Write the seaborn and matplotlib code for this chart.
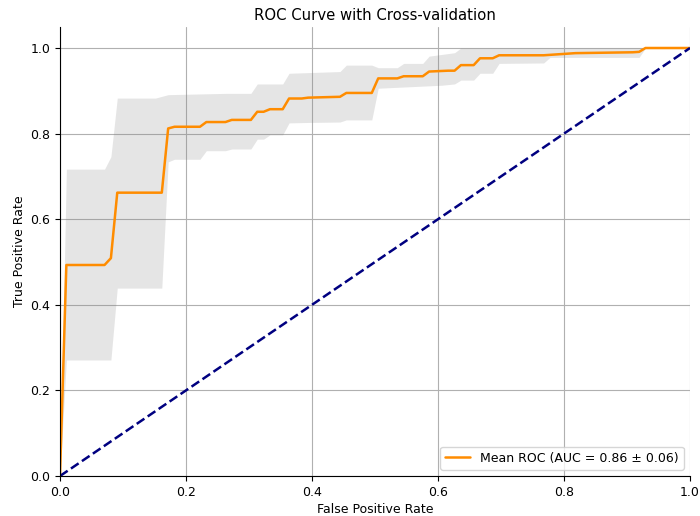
import matplotlib
matplotlib.use("Agg")
import matplotlib.pyplot as plt
import seaborn as sns
import pandas as pd
import numpy as np

# Mean ROC curve
mean_fpr = [0.0, 0.0101, 0.0707, 0.0808, 0.0909, 0.1616, 0.1717, 0.1818, 0.2222, 0.2323,
            0.2626, 0.2727, 0.3030, 0.3131, 0.3232, 0.3333, 0.3535, 0.3636, 0.3838, 0.3939,
            0.4444, 0.4545, 0.4949, 0.5051, 0.5354, 0.5455, 0.5758, 0.5859, 0.6162, 0.6263,
            0.6364, 0.6566, 0.6667, 0.6869, 0.6970, 0.7677, 0.8182, 0.9091, 0.9192, 0.9293, 1.0]
mean_tpr = [0.0, 0.493, 0.493, 0.509, 0.662, 0.662, 0.812, 0.816, 0.816, 0.827,
            0.827, 0.832, 0.832, 0.851, 0.851, 0.857, 0.857, 0.882, 0.882, 0.884,
            0.886, 0.895, 0.895, 0.929, 0.929, 0.934, 0.934, 0.945, 0.947, 0.947,
            0.960, 0.960, 0.976, 0.976, 0.983, 0.983, 0.988, 0.990, 0.991, 1.0, 1.0]

# Std band upper edge
upper_fpr = [0.0, 0.0101, 0.0707, 0.0808, 0.0909, 0.1515, 0.1616, 0.1717, 0.2626, 0.3030,
             0.3131, 0.3535, 0.3636, 0.4444, 0.4545, 0.4949, 0.5051, 0.5354, 0.5455, 0.5758,
             0.5859, 0.6263, 0.6364, 1.0]
upper_tpr = [0.0, 0.717, 0.717, 0.746, 0.883, 0.883, 0.887, 0.891, 0.894, 0.894,
             0.916, 0.916, 0.941, 0.945, 0.960, 0.960, 0.954, 0.954, 0.964, 0.964,
             0.981, 0.989, 1.0, 1.0]

# Std band lower edge
lower_fpr = [0.0, 0.0101, 0.0808, 0.0909, 0.1616, 0.1717, 0.1818, 0.2222, 0.2323, 0.2626,
             0.2727, 0.3030, 0.3131, 0.3232, 0.3333, 0.3535, 0.3636, 0.3939, 0.4444, 0.4545,
             0.4949, 0.5051, 0.6061, 0.6263, 0.6364, 0.6566, 0.6667, 0.6869, 0.6970, 0.7677,
             0.7778, 0.9192, 0.9293, 1.0]
lower_tpr = [0.0, 0.271, 0.271, 0.439, 0.439, 0.734, 0.740, 0.740, 0.760, 0.760,
             0.764, 0.764, 0.787, 0.787, 0.797, 0.797, 0.825, 0.826, 0.827, 0.832,
             0.832, 0.906, 0.913, 0.916, 0.925, 0.925, 0.941, 0.941, 0.964, 0.965,
             0.978, 0.978, 1.0, 1.0]

chance = [0.0, 1.0]
legend_label = "Mean ROC (AUC = 0.86 \u00b1 0.06)"

sns.set_style("ticks")
plt.rcParams.update({"text.color": "black", "axes.labelcolor": "black",
                     "xtick.color": "black", "ytick.color": "black",
                     "axes.edgecolor": "black"})
fig = plt.figure(figsize=(7.0, 5.16), dpi=100)
ax = fig.add_axes([60/700, 40/516, 630/700, (476-26.6)/516])

grid_x = np.unique(np.concatenate([upper_fpr, lower_fpr]))
up = np.interp(grid_x, upper_fpr, upper_tpr)
lo = np.interp(grid_x, lower_fpr, lower_tpr)
ax.fill_between(grid_x, lo, up, color="grey", alpha=0.2, linewidth=0)

df = pd.DataFrame({"fpr": mean_fpr, "tpr": mean_tpr})
sns.lineplot(data=df, x="fpr", y="tpr", ax=ax, color="darkorange", lw=1.8,
             label=legend_label, sort=False, estimator=None)
dfc = pd.DataFrame({"x": chance, "y": chance})
sns.lineplot(data=dfc, x="x", y="y", ax=ax, color="navy", lw=1.8, linestyle="--",
             sort=False, estimator=None)

ax.set_xlim(0.0, 1.0)
ax.set_ylim(0.0, 1.05)
ax.set_xticks([0.0, 0.2, 0.4, 0.6, 0.8, 1.0])
ax.set_yticks([0.0, 0.2, 0.4, 0.6, 0.8, 1.0])
ax.grid(True, color="#b0b0b0", linewidth=0.8)
ax.set_axisbelow(True)
ax.set_xlabel("False Positive Rate", fontsize=9, labelpad=3)
ax.set_ylabel("True Positive Rate", fontsize=9, labelpad=3)
ax.set_title("ROC Curve with Cross-validation", fontsize=10.7, pad=5)
ax.tick_params(labelsize=9, length=3.5)
sns.despine(ax=ax)
ax.legend(loc="lower right", fontsize=9)

fig.savefig("out.png", dpi=100)
